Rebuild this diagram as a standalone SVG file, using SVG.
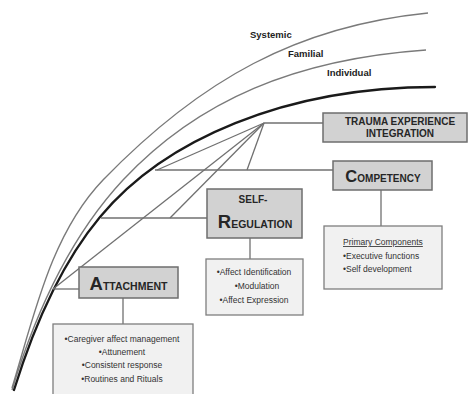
<svg xmlns="http://www.w3.org/2000/svg" width="472" height="394" viewBox="0 0 472 394">
<style>
.arc{fill:none;stroke:#7a7a7a;stroke-width:1.4}
.ind{fill:none;stroke:#1a1a1a;stroke-width:2.3;stroke-linecap:round}
.conn{fill:none;stroke:#707070;stroke-width:1.3}
.main{fill:#d2d2d2;stroke:#6e6e6e;stroke-width:1.5}
.sub{fill:#f1f1f1;stroke:#7e7e7e;stroke-width:1.3}
.lvl{font-family:"Liberation Sans",Arial,sans-serif;font-weight:bold;font-size:9.5px;fill:#222}
.hd{font-family:"Liberation Sans",Arial,sans-serif;font-weight:bold;fill:#262626;text-anchor:middle}
.tx{font-family:"Liberation Sans",Arial,sans-serif;font-size:8.5px;fill:#333}
</style>
<rect width="472" height="394" fill="#ffffff"/>
<g id="levels">
<path class="arc" d="M12,388 C34,316 51,234 103,180 C201,79 298,26 428,13"/>
<path class="arc" d="M12,390 C35,314 69,238 123,180 C198,100 296,59 426,50"/>
<path class="ind" d="M14,390 C33,329 59,266 100,217 C164,140 285,87 435,87"/>
<text class="lvl" x="250" y="38">Systemic</text>
<text class="lvl" x="288" y="57">Familial</text>
<text class="lvl" x="327" y="76">Individual</text>
</g>
<g id="connectors">
<line class="conn" x1="264" y1="123" x2="323" y2="123"/>
<line class="conn" x1="264" y1="123" x2="247" y2="170"/>
<line class="conn" x1="264" y1="123" x2="157" y2="170"/>
<line class="conn" x1="264" y1="123" x2="170" y2="218"/>
<line class="conn" x1="264" y1="123" x2="53" y2="289"/>
<line class="conn" x1="155" y1="170" x2="333" y2="170"/>
<line class="conn" x1="101" y1="218" x2="207" y2="218"/>
<line class="conn" x1="53" y1="289" x2="79" y2="289"/>
<line class="conn" x1="381" y1="190" x2="381" y2="226"/>
<line class="conn" x1="250" y1="238" x2="250" y2="259"/>
<line class="conn" x1="123" y1="298" x2="123" y2="324"/>
</g>
<g id="trauma">
<rect class="main" x="323" y="113" width="144" height="29"/>
<text class="hd" x="400" y="125" font-size="10">TRAUMA EXPERIENCE</text>
<text class="hd" x="400" y="137" font-size="10">INTEGRATION</text>
</g>
<g id="competency">
<rect class="main" x="333" y="161" width="99" height="29"/>
<text class="hd" x="383" y="182"><tspan font-size="16.5">C</tspan><tspan font-size="10">OMPETENCY</tspan></text>
</g>
<g id="competency-components">
<rect class="sub" x="324" y="226" width="118" height="63"/>
<text class="tx" x="343" y="245" text-decoration="underline">Primary Components</text>
<text class="tx" x="343" y="259">•Executive functions</text>
<text class="tx" x="343" y="272">•Self development</text>
</g>
<g id="self-regulation">
<rect class="main" x="207" y="189" width="95" height="49"/>
<text class="hd" x="253" y="203" font-size="10">SELF-</text>
<text class="hd" x="255" y="228"><tspan font-size="18.5">R</tspan><tspan font-size="10.5">EGULATION</tspan></text>
</g>
<g id="self-regulation-components">
<rect class="sub" x="206" y="259" width="97" height="56"/>
<text class="tx" x="254" y="275" text-anchor="middle">•Affect Identification</text>
<text class="tx" x="257" y="289" text-anchor="middle">•Modulation</text>
<text class="tx" x="254" y="303" text-anchor="middle">•Affect Expression</text>
</g>
<g id="attachment">
<rect class="main" x="79" y="267" width="99" height="31"/>
<text class="hd" x="128.5" y="290"><tspan font-size="18.5">A</tspan><tspan font-size="10.5">TTACHMENT</tspan></text>
</g>
<g id="attachment-components">
<rect class="sub" x="53" y="324" width="140" height="75"/>
<text class="tx" x="122" y="342" text-anchor="middle">•Caregiver affect management</text>
<text class="tx" x="122" y="355" text-anchor="middle">•Attunement</text>
<text class="tx" x="122" y="368" text-anchor="middle">•Consistent response</text>
<text class="tx" x="122" y="382" text-anchor="middle">•Routines and Rituals</text>
</g>
</svg>
